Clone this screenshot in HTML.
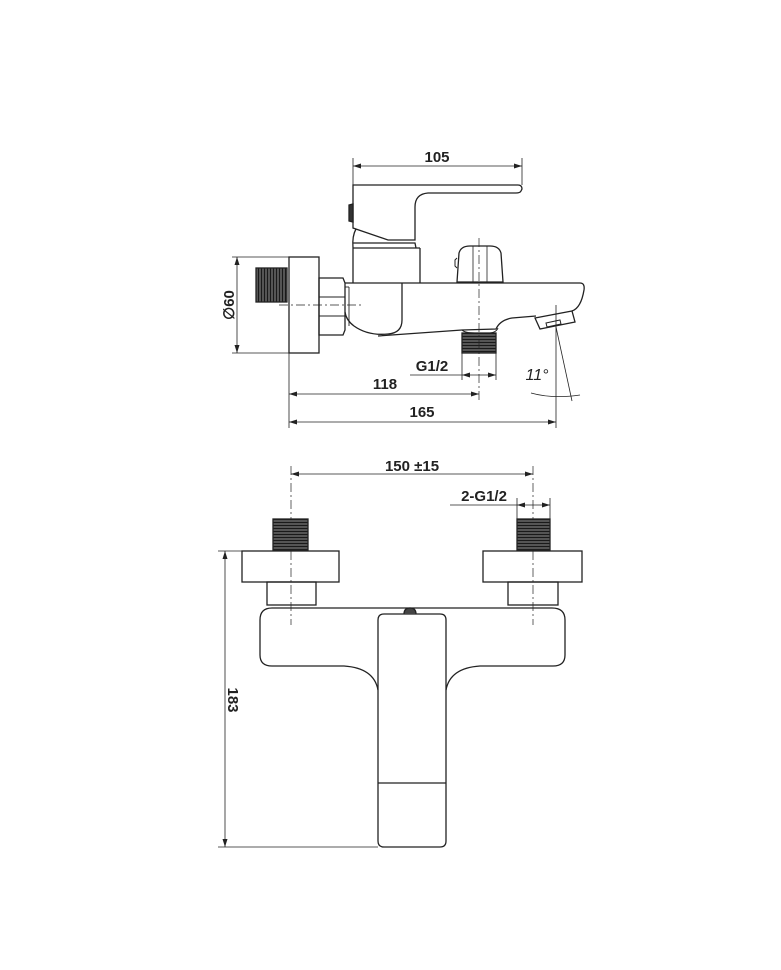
<!DOCTYPE html>
<html><head><style>html,body{margin:0;padding:0;background:#fff}svg{display:block}</style></head>
<body>
<svg width="781" height="970" viewBox="0 0 781 970" xmlns="http://www.w3.org/2000/svg">
<defs>
<marker id="a" markerWidth="8" markerHeight="6" refX="8" refY="3" orient="auto-start-reverse" markerUnits="userSpaceOnUse"><path d="M0,0.5 L8,3 L0,5.5 z" fill="#222"/></marker>
<pattern id="th" width="4" height="3" patternUnits="userSpaceOnUse"><rect width="4" height="3" fill="#555"/><rect width="4" height="1" fill="#1a1a1a"/></pattern>
<pattern id="tv" width="3" height="4" patternUnits="userSpaceOnUse"><rect width="3" height="4" fill="#555"/><rect width="1" height="4" fill="#1a1a1a"/></pattern>
</defs>
<g fill="none" stroke="#222" stroke-width="1.3" font-family="Liberation Sans, sans-serif">
<!-- TOP VIEW -->
<!-- 105 dim -->
<line x1="353" y1="158" x2="353" y2="185" stroke-width="0.8"/>
<line x1="522" y1="158" x2="522" y2="185" stroke-width="0.8"/>
<line x1="353" y1="166" x2="522" y2="166" stroke-width="0.8" marker-start="url(#a)" marker-end="url(#a)"/>
<!-- handle -->
<path d="M353,185 L518,185 Q522,185 522,189 L521,191 Q520,193 516,193 L428,193 Q415,194 415,207 L415,240 L388,240 L353,228 Z"/>
<path d="M349,205 L353,204 L353,222 L349,221 Z" fill="#333"/>
<path d="M356,229 Q352,236 353,248"/>
<!-- neck -->
<path d="M353,243 L415,243 L416,248 M353,248 L353,283 M420,248 L420,283 M353,248 L420,248"/>
<!-- diverter knob -->
<path d="M457,282 L459,253 Q461,246 470,246 L490,246 Q499,246 501,253 L503,282 Z"/>
<line x1="473" y1="246" x2="473" y2="282" stroke-width="0.8"/>
<line x1="487" y1="246" x2="487" y2="282" stroke-width="0.8"/>
<path d="M457,258 L455,260 L455,266 L457,268" stroke-width="1"/>
<!-- spout body -->
<path d="M345,283 L580,283 Q585,283 584,290 Q581,308 572,311"/>
<path d="M402,283 L402,320 Q402,333 388,334 Q368,336 354,326 Q346,320 345,312"/>
<path d="M378,336 L462,330 L496,329 Q500,320 512,318 L536,316"/>
<path d="M462,330 Q465,333 475,333 L488,333 Q496,333 498,328" stroke-width="1"/>
<!-- spout tip -->
<path d="M535,318 L572,311 L575,322 L540,329 Z"/>
<path d="M546,323 L560,320 L561,324 L547,327 Z" stroke-width="1"/>
<!-- nut -->
<path d="M319,278 L343,278 L345,283 L345,330 L343,335 L319,335 Z"/>
<line x1="319" y1="297" x2="345" y2="297" stroke-width="0.9"/>
<line x1="319" y1="316" x2="345" y2="316" stroke-width="0.9"/>
<line x1="345" y1="287" x2="349" y2="287" stroke-width="0.9"/>
<line x1="349" y1="287" x2="349" y2="326" stroke-width="0.9"/>
<!-- flange -->
<rect x="289" y="257" width="30" height="96"/>
<!-- thread left -->
<rect x="256" y="268" width="31" height="34" fill="url(#tv)" stroke="#222"/>
<!-- bottom thread -->
<rect x="462" y="333" width="34" height="20" fill="url(#th)" stroke="#222"/>
<!-- centerlines -->
<line x1="279" y1="305" x2="362" y2="305" stroke-width="0.7" stroke-dasharray="9,3,2,3"/>
<line x1="479" y1="238" x2="479" y2="400" stroke-width="0.7" stroke-dasharray="9,3,2,3"/>
<!-- Ø60 -->
<line x1="232" y1="257" x2="289" y2="257" stroke-width="0.8"/>
<line x1="232" y1="353" x2="289" y2="353" stroke-width="0.8"/>
<line x1="237" y1="257" x2="237" y2="353" stroke-width="0.8" marker-start="url(#a)" marker-end="url(#a)"/>
<text x="0" y="0" transform="translate(234,305) rotate(-90)" text-anchor="middle" font-size="15" font-weight="bold" fill="#222" stroke="none">∅60</text>
<!-- G1/2 -->
<line x1="462" y1="353" x2="462" y2="380" stroke-width="0.8"/>
<line x1="496" y1="353" x2="496" y2="380" stroke-width="0.8"/>
<line x1="410" y1="375" x2="462" y2="375" stroke-width="0.8"/>
<line x1="462" y1="375" x2="496" y2="375" stroke-width="0.8" marker-start="url(#a)" marker-end="url(#a)"/>
<text x="432" y="371" text-anchor="middle" font-size="15" font-weight="bold" fill="#222" stroke="none">G1/2</text>
<!-- 118 / 165 -->
<line x1="289" y1="353" x2="289" y2="428" stroke-width="0.8"/>
<line x1="289" y1="394" x2="479" y2="394" stroke-width="0.8" marker-start="url(#a)" marker-end="url(#a)"/>
<text x="385" y="389" text-anchor="middle" font-size="15" font-weight="bold" fill="#222" stroke="none">118</text>
<line x1="556" y1="305" x2="556" y2="428" stroke-width="0.8"/>
<line x1="289" y1="422" x2="556" y2="422" stroke-width="0.8" marker-start="url(#a)" marker-end="url(#a)"/>
<text x="422" y="417" text-anchor="middle" font-size="15" font-weight="bold" fill="#222" stroke="none">165</text>
<text x="156" y="163" font-size="15" font-weight="bold" fill="#222" stroke="none"/>
<text x="437" y="162" text-anchor="middle" font-size="15" font-weight="bold" fill="#222" stroke="none">105</text>
<!-- 11° -->
<line x1="556" y1="327" x2="572" y2="401" stroke-width="0.8"/>
<path d="M531,393 Q552,399 580,395" stroke-width="0.8"/>
<text x="537" y="380" text-anchor="middle" font-size="16" font-style="italic" fill="#222" stroke="none">11°</text>

<!-- BOTTOM VIEW -->
<line x1="291" y1="466" x2="291" y2="625" stroke-width="0.7" stroke-dasharray="9,3,2,3"/>
<line x1="533" y1="466" x2="533" y2="625" stroke-width="0.7" stroke-dasharray="9,3,2,3"/>
<line x1="291" y1="474" x2="533" y2="474" stroke-width="0.8" marker-start="url(#a)" marker-end="url(#a)"/>
<text x="412" y="471" text-anchor="middle" font-size="15" font-weight="bold" fill="#222" stroke="none">150 ±15</text>
<line x1="517" y1="498" x2="517" y2="519" stroke-width="0.8"/>
<line x1="550" y1="498" x2="550" y2="519" stroke-width="0.8"/>
<line x1="450" y1="505" x2="517" y2="505" stroke-width="0.8"/>
<line x1="517" y1="505" x2="550" y2="505" stroke-width="0.8" marker-start="url(#a)" marker-end="url(#a)"/>
<text x="484" y="501" text-anchor="middle" font-size="15" font-weight="bold" fill="#222" stroke="none">2-G1/2</text>
<!-- threads -->
<rect x="273" y="519" width="35" height="31" fill="url(#th)" stroke="#222"/>
<rect x="517" y="519" width="33" height="31" fill="url(#th)" stroke="#222"/>
<!-- flanges -->
<rect x="242" y="551" width="97" height="31"/>
<rect x="483" y="551" width="99" height="31"/>
<!-- nuts -->
<rect x="267" y="582" width="49" height="23"/>
<rect x="508" y="582" width="50" height="23"/>
<!-- body -->
<path d="M272,608 L552,608 Q565,608 565,620 L565,655 Q565,666 553,666 L480,666 Q450,668 446,690 M378,690 Q374,668 344,666 L272,666 Q260,666 260,655 L260,620 Q260,608 272,608"/>
<path d="M384,614 L440,614 Q446,614 446,620 L446,841 Q446,847 440,847 L384,847 Q378,847 378,841 L378,620 Q378,614 384,614 Z"/>
<line x1="378" y1="783" x2="446" y2="783"/>
<path d="M404,614 Q404,608 410,608 Q416,608 416,614" fill="#444"/>
<!-- 183 -->
<line x1="218" y1="551" x2="242" y2="551" stroke-width="0.8"/>
<line x1="218" y1="847" x2="378" y2="847" stroke-width="0.8"/>
<line x1="225" y1="551" x2="225" y2="847" stroke-width="0.8" marker-start="url(#a)" marker-end="url(#a)"/>
<text x="0" y="0" transform="translate(228,700) rotate(90)" text-anchor="middle" font-size="15" font-weight="bold" fill="#222" stroke="none">183</text>
</g>
</svg>
</body></html>
